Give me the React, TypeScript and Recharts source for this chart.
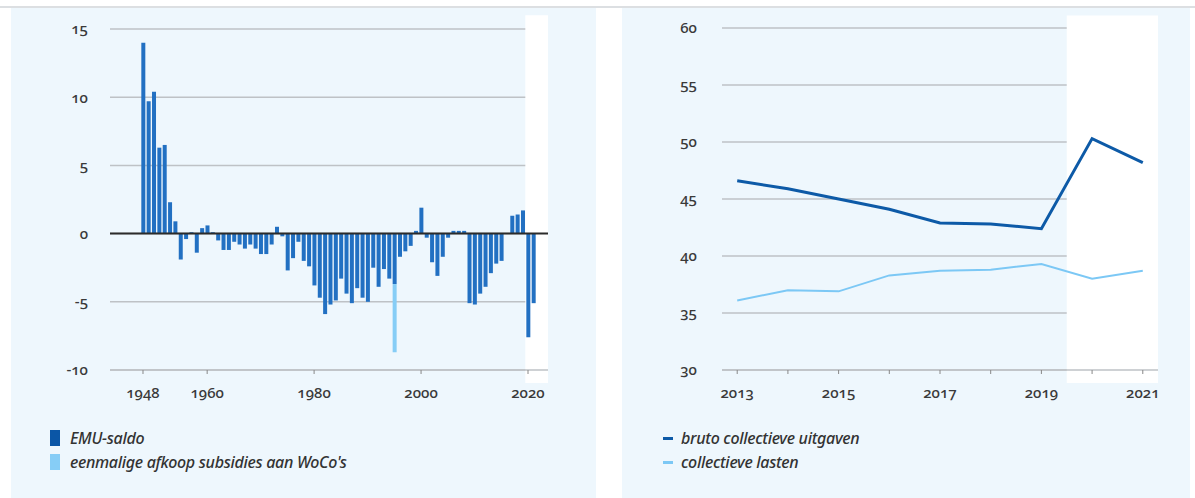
import {
  BarChart, Bar, LineChart, Line, XAxis, YAxis, CartesianGrid,
  ReferenceArea, ReferenceLine,
} from "recharts";

/* ── Left: EMU-saldo per year ── */
const firstYear = 1948;
const emuSaldo = [
  14.0, 9.7, 10.4, 6.3, 6.5, 2.3, 0.9, -1.9, -0.4, 0.1,
  -1.4, 0.4, 0.6, 0.1, -0.5, -1.2, -1.2, -0.6, -0.8, -1.1,
  -0.8, -1.1, -1.5, -1.5, -0.8, 0.5, -0.2, -2.7, -1.8, -0.6,
  -2.0, -2.4, -3.8, -4.7, -5.9, -5.2, -4.9, -3.3, -4.4, -5.1,
  -4.0, -4.7, -5.0, -2.5, -3.9, -2.6, -3.3, -3.7, -1.7, -1.3,
  -0.9, 0.2, 1.9, -0.3, -2.1, -3.1, -1.7, -0.3, 0.2, 0.2,
  0.2, -5.1, -5.2, -4.4, -3.9, -2.9, -2.2, -2.0, 0.0, 1.3,
  1.4, 1.7, -7.6, -5.1,
];
const wocoYear = 1995;
const wocoAfkoop = -5.0;
const leftYTicks = [-10, -5, 0, 5, 10, 15];
const leftXTicks = [1948, 1960, 1980, 2000, 2020];
const leftLegend = [
  { name: "EMU-saldo", color: "#0b56a6" },
  { name: "eenmalige afkoop subsidies aan WoCo's", color: "#86cdf6" },
];

/* ── Right: collectieve uitgaven en lasten ── */
const rightYears = [2013, 2014, 2015, 2016, 2017, 2018, 2019, 2020, 2021];
const brutoUitgaven = [46.6, 45.9, 45.0, 44.1, 42.9, 42.8, 42.4, 50.3, 48.2];
const collectieveLasten = [36.1, 37.0, 36.9, 38.3, 38.7, 38.8, 39.3, 38.0, 38.7];
const rightYTicks = [30, 35, 40, 45, 50, 55, 60];
const rightLegend = [
  { name: "bruto collectieve uitgaven", color: "#0d5aa7" },
  { name: "collectieve lasten", color: "#7cc8f5" },
];

const forecastStart = 2019.5;

const leftData = emuSaldo.map((v, i) => ({
  year: firstYear + i,
  emu: v,
  woco: firstYear + i === wocoYear ? wocoAfkoop : 0,
}));

const rightData = rightYears.map((y, i) => ({
  year: y,
  bruto: brutoUitgaven[i],
  lasten: collectieveLasten[i],
}));

const panelBg = "#eef7fd";
const gridColor = "#bec2c6";
const tickStyle = { fill: "#3a3a3a", fontSize: 15, fontWeight: 500 };

function LeftChart() {
  return (
    <BarChart
      width={600} height={420} data={leftData} barSize={4} stackOffset="sign"
      margin={{ top: 29, right: 52, left: 60, bottom: 20 }}
    >
      <ReferenceArea
        x1={forecastStart} x2={2023.74} y1={-10.95} y2={16.0}
        fill="#ffffff" fillOpacity={1} stroke="none" ifOverflow="visible"
      />
      <CartesianGrid vertical={false} stroke={gridColor} strokeWidth={1.5} />
      <XAxis
        dataKey="year" type="number" domain={[1941.83, 2023.74]} allowDataOverflow
        ticks={leftXTicks} tick={tickStyle} tickSize={4} tickMargin={13}
        axisLine={{ stroke: gridColor, strokeWidth: 1.5 }} tickLine={{ stroke: "#888" }}
        height={30}
      />
      <YAxis
        domain={[-10, 15]} ticks={leftYTicks} tick={tickStyle} width={50}
        axisLine={false} tickLine={false} tickMargin={16}
      />
      <Bar dataKey="emu" stackId="s" fill="#2270c2" isAnimationActive={false} />
      <Bar dataKey="woco" stackId="s" fill="#86cdf6" isAnimationActive={false} />
      <ReferenceLine y={0} stroke="#2b2b2b" strokeWidth={2} />
    </BarChart>
  );
}

function RightChart() {
  return (
    <LineChart
      width={600} height={420} data={rightData}
      margin={{ top: 28, right: 42, left: 72, bottom: 20 }}
    >
      <ReferenceArea
        x1={forecastStart} x2={2021.3} y1={28.86} y2={61.1}
        fill="#ffffff" fillOpacity={1} stroke="none" ifOverflow="visible"
      />
      <CartesianGrid vertical={false} stroke={gridColor} strokeWidth={1.5} />
      <XAxis
        dataKey="year" type="number" domain={[2012.7, 2021.3]} allowDataOverflow
        ticks={rightYears} tick={tickStyle} tickSize={4} tickMargin={13}
        tickFormatter={(v: number) => (v % 2 === 1 ? String(v) : "")}
        axisLine={{ stroke: gridColor, strokeWidth: 1.5 }} tickLine={{ stroke: "#888" }}
        height={30}
      />
      <YAxis
        domain={[30, 60]} ticks={rightYTicks} tick={tickStyle} width={50}
        axisLine={false} tickLine={false} tickMargin={19}
      />
      <Line
        dataKey="lasten" type="linear" stroke="#7cc8f5" strokeWidth={2}
        dot={false} activeDot={false} isAnimationActive={false}
      />
      <Line
        dataKey="bruto" type="linear" stroke="#0d5aa7" strokeWidth={3}
        dot={false} activeDot={false} isAnimationActive={false}
      />
    </LineChart>
  );
}

function LegendBlock({ items, kind, left }: {
  items: { name: string; color: string }[]; kind: "rect" | "line"; left: number;
}) {
  return (
    <div style={{ position: "absolute", left, top: 426 }}>
      {items.map((it) => (
        <div key={it.name} style={{ display: "flex", alignItems: "center", height: 24 }}>
          {kind === "rect" ? (
            <span style={{ width: 10, height: 16, background: it.color, marginRight: 10 }} />
          ) : (
            <span style={{ width: 10, height: 3, background: it.color, marginRight: 8 }} />
          )}
          <span style={{ fontStyle: "italic", fontSize: 16, color: "#333", letterSpacing: -0.3, fontWeight: 500 }}>
            {it.name}
          </span>
        </div>
      ))}
    </div>
  );
}

export default function App() {
  return (
    <div
      className="wrap"
      style={{
        position: "absolute", left: 0, top: 0, width: 1195, height: 498,
        background: "#ffffff", overflow: "hidden", fontFamily: "'Noto Sans', sans-serif",
      }}
    >
      <style>{`.wrap text { font-variant-numeric: oldstyle-nums; font-family: 'Noto Sans', sans-serif; }`}</style>
      <div style={{ position: "absolute", left: 0, top: 6, width: 1195, height: 2, background: "#dcdfe2" }} />
      <div style={{ position: "absolute", left: 11, top: 8, width: 585, height: 490, background: panelBg }} />
      <div style={{ position: "absolute", left: 622, top: 8, width: 568, height: 490, background: panelBg }} />
      <div style={{ position: "absolute", left: 0, top: 0 }}>
        <LeftChart />
      </div>
      <div style={{ position: "absolute", left: 600, top: 0 }}>
        <RightChart />
      </div>
      <LegendBlock items={leftLegend} kind="rect" left={50} />
      <LegendBlock items={rightLegend} kind="line" left={663} />
    </div>
  );
}
